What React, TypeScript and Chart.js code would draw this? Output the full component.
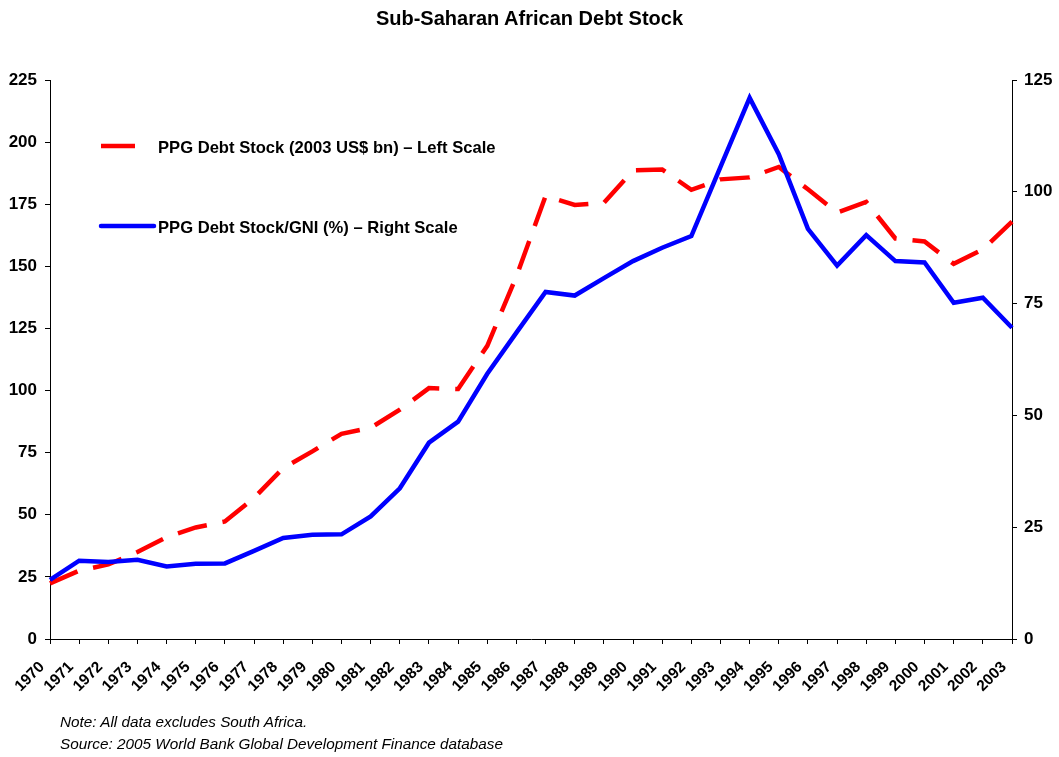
import React, { useEffect, useRef } from "react";
import { Chart, registerables } from "chart.js";

Chart.register(...registerables);

const years: string[] = [
  "1970", "1971", "1972", "1973", "1974", "1975", "1976", "1977", "1978", "1979",
  "1980", "1981", "1982", "1983", "1984", "1985", "1986", "1987", "1988", "1989",
  "1990", "1991", "1992", "1993", "1994", "1995", "1996", "1997", "1998", "1999",
  "2000", "2001", "2002", "2003",
];

// PPG Debt Stock (2003 US$ bn) – left scale
const debtStock: number[] = [
  22.4, 27.5, 30, 35, 41, 44.9, 47.3, 56.8, 68.8, 75.5,
  82.6, 85, 92.3, 101, 100.6, 118, 146, 178.3, 174.7, 175.6,
  188.6, 189, 180.8, 185, 185.8, 190, 181, 171.6, 175.9, 161.2,
  160, 151, 156.8, 168,
];

// PPG Debt Stock/GNI (%) – right scale
const debtToGni: number[] = [
  13.2, 17.5, 17.2, 17.7, 16.2, 16.8, 16.9, 19.7, 22.6, 23.3,
  23.4, 27.4, 33.7, 43.9, 48.6, 59.3, 68.5, 77.6, 76.8, 80.7,
  84.5, 87.5, 90.1, 105.6, 121, 108.4, 91.7, 83.5, 90.3, 84.5,
  84.2, 75.2, 76.3, 69.6,
];

const leftTicks: number[] = [0, 25, 50, 75, 100, 125, 150, 175, 200, 225];
const rightTicks: number[] = [0, 25, 50, 75, 100, 125];

const titleText = "Sub-Saharan African Debt Stock";
const legendLeft = "PPG Debt Stock (2003 US$ bn) \u2013 Left Scale";
const legendRight = "PPG Debt Stock/GNI (%) \u2013 Right Scale";
const noteText = "Note: All data excludes South Africa.";
const sourceText = "Source: 2005 World Bank Global Development Finance database";

const FONT = "'Liberation Sans', Arial, Helvetica, sans-serif";

const legendPlugin = {
  id: "customLegend",
  afterDraw(chart: any) {
    const ctx = chart.ctx as CanvasRenderingContext2D;
    ctx.save();
    ctx.lineWidth = 4.5;
    ctx.strokeStyle = "#FF0000";
    ctx.lineCap = "butt";
    ctx.beginPath();
    ctx.moveTo(101, 146);
    ctx.lineTo(135, 146);
    ctx.stroke();
    ctx.strokeStyle = "#0000FF";
    ctx.lineCap = "round";
    ctx.beginPath();
    ctx.moveTo(101, 226);
    ctx.lineTo(154, 226);
    ctx.stroke();
    ctx.fillStyle = "#000";
    ctx.font = `bold 16.6px ${FONT}`;
    ctx.textBaseline = "middle";
    ctx.textAlign = "left";
    ctx.fillText(legendLeft, 158, 148);
    ctx.fillText(legendRight, 158, 228);
    ctx.restore();
  },
};

export default function App() {
  const ref = useRef<HTMLCanvasElement | null>(null);

  useEffect(() => {
    if (!ref.current) return;
    const chart = new Chart(ref.current, {
      type: "line",
      data: {
        labels: years,
        datasets: [
          {
            label: "PPG Debt Stock/GNI (%)",
            data: debtToGni,
            yAxisID: "y1",
            borderColor: "#0000FF",
            borderWidth: 4.5,
            pointRadius: 0,
            tension: 0,
            fill: false,
          },
          {
            label: "PPG Debt Stock (2003 US$ bn)",
            data: debtStock,
            yAxisID: "y",
            borderColor: "#FF0000",
            borderWidth: 4.5,
            borderDash: [30, 16],
            pointRadius: 0,
            tension: 0,
            fill: false,
          },
        ],
      },
      options: {
        animation: false,
        responsive: false,
        maintainAspectRatio: false,
        layout: { padding: { top: 80, left: 0, right: 0, bottom: 0 } },
        plugins: {
          legend: { display: false },
          title: { display: false },
          tooltip: { enabled: false },
        },
        scales: {
          x: {
            offset: false,
            grid: { drawOnChartArea: false, drawTicks: true, tickLength: 5, color: "#000" },
            border: { color: "#000", width: 1 },
            ticks: {
              autoSkip: false,
              maxRotation: 45,
              minRotation: 45,
              padding: 14,
              labelOffset: -8,
              color: "#000",
              font: { family: FONT, size: 15.5, weight: "bold" },
            },
            afterFit: (s: any) => {
              s.height = 118;
            },
          },
          y: {
            position: "left",
            min: 0,
            max: 225,
            afterBuildTicks: (s: any) => {
              s.ticks = leftTicks.map((v) => ({ value: v }));
            },
            grid: { drawOnChartArea: false, drawTicks: true, tickLength: 5, color: "#000" },
            border: { color: "#000", width: 1 },
            ticks: {
              padding: 8,
              color: "#000",
              font: { family: FONT, size: 17, weight: "bold" },
            },
            afterFit: (s: any) => {
              s.width = 50;
            },
          },
          y1: {
            position: "right",
            min: 0,
            max: 125,
            afterBuildTicks: (s: any) => {
              s.ticks = rightTicks.map((v) => ({ value: v }));
            },
            grid: { drawOnChartArea: false, drawTicks: true, tickLength: 5, color: "#000" },
            border: { color: "#000", width: 1 },
            ticks: {
              padding: 7,
              color: "#000",
              font: { family: FONT, size: 17, weight: "bold" },
            },
            afterFit: (s: any) => {
              s.width = 47;
            },
          },
        },
      },
      plugins: [legendPlugin],
    });
    return () => chart.destroy();
  }, []);

  return (
    <div
      style={{
        position: "absolute",
        left: 0,
        top: 0,
        width: 1059,
        height: 757,
        background: "#fff",
        fontFamily: FONT,
      }}
    >
      <canvas ref={ref} width={1059} height={757} style={{ position: "absolute", left: 0, top: 0 }} />
      <div
        style={{
          position: "absolute",
          left: 0,
          width: 1059,
          top: 6,
          textAlign: "center",
          fontWeight: "bold",
          fontSize: 20,
          lineHeight: "24px",
          color: "#000",
        }}
      >
        {titleText}
      </div>
      <div
        style={{
          position: "absolute",
          left: 60,
          top: 711,
          fontStyle: "italic",
          fontSize: 15.3,
          lineHeight: "22px",
          color: "#000",
          whiteSpace: "nowrap",
        }}
      >
        <div>{noteText}</div>
        <div>{sourceText}</div>
      </div>
    </div>
  );
}
